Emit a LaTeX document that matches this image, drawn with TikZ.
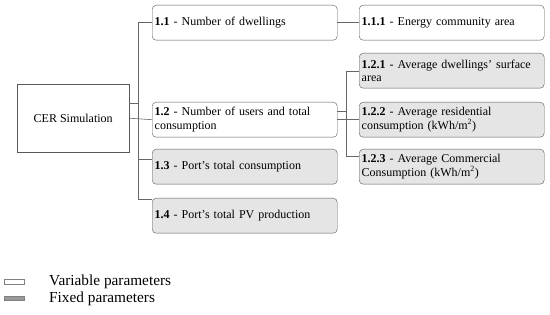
\documentclass[tikz,border=0pt]{standalone}
\usepackage{fontspec}
\setmainfont{Liberation Serif}
\usetikzlibrary{calc}

\begin{document}
\begin{tikzpicture}[x=1pt,y=-1pt,
  box/.style={draw=black!65,rounded corners=4pt,anchor=north west,
    minimum width=185pt,minimum height=35pt,text width=180pt,align=left,
    inner xsep=2.5pt,font=\fontsize{12}{13.3}\selectfont},
  varbox/.style={box,fill=white},
  fixbox/.style={box,fill=black!10},
  link/.style={draw=black!60,line width=0.6pt}]

\useasboundingbox (0,0) rectangle (550,315);

% ======================= ROOT =========================================
\node[draw=black!65,anchor=north west,minimum width=112pt,minimum height=68pt,
  font=\fontsize{12}{13.3}\selectfont] (cer) at (17,84) {CER Simulation};

% ======================= LEVEL 1 ======================================
\node[varbox] (n11) at (152,5)   {\textbf{1.1} - Number of dwellings};
\node[varbox] (n12) at (152,102) {\textbf{1.2} - Number of users and total\\consumption};
\node[fixbox] (n13) at (152,149) {\textbf{1.3} - Port's total consumption};
\node[fixbox] (n14) at (152,198) {\textbf{1.4} - Port's total PV production};

% ======================= LEVEL 2 ======================================
\node[varbox] (n111) at (359,5)   {\textbf{1.1.1} - Energy community area};
\node[fixbox] (n121) at (359,53)  {\textbf{1.2.1} - Average dwellings' surface\\area};
\node[fixbox] (n122) at (359,102) {\textbf{1.2.2} - Average residential\\consumption (kWh/m\textsuperscript{2})};
\node[fixbox] (n123) at (359,149) {\textbf{1.2.3} - Average Commercial\\Consumption (kWh/m\textsuperscript{2})};

% trunk joints
\coordinate (jA) at (138,103);
\coordinate (jB) at (138,199);
\coordinate (jC) at (138,159);
\coordinate (kA) at (346,111);
\coordinate (kB) at (346,71);
\coordinate (kC) at (346,156);

% root -> level 1
\draw[link] (cer.east |- jA) -- (jA);
\draw[link] (n11.west) -| (jB) -- (n14.west |- jB);
\draw[link] (jC) -- (n13.west |- jC);
\draw[link] (cer.east) -- (n12.west);

% level 1 -> level 2
\draw[link] (n11.east) -- (n111.west);
\draw[link] (n12.east |- kA) -- (kA);
\draw[link] (n121.west |- kB) -| (kC) -- (n123.west |- kC);
\draw[link] (n12.east) -- (n122.west);

% ======================= LEGEND =======================================
\draw[black!50,fill=white] (4,279) rectangle (24,284);
\draw[black!50,fill=black!40] (4,296) rectangle (24,300);
\node[anchor=west,inner sep=0pt,font=\fontsize{15.3}{17}\selectfont] (lvar) at (49,282) {Variable parameters};
\node[anchor=west,inner sep=0pt,font=\fontsize{15.3}{17}\selectfont] (lfix) at (49,299) {Fixed parameters};

\end{tikzpicture}
\end{document}
